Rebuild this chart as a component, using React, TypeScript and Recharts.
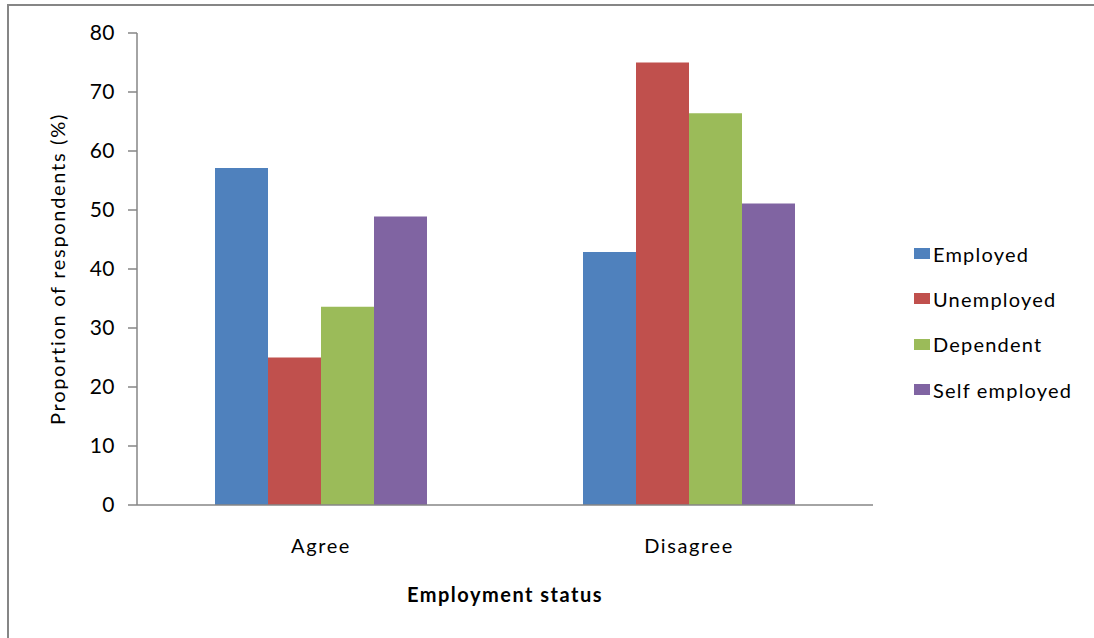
import React from "react";
import { BarChart, Bar, XAxis, YAxis, Legend, Label } from "recharts";

// Response categories along the x axis
const categories = ["Agree", "Disagree"];

// Share of respondents (%) for each employment status
const employed = [57.1, 42.9];
const unemployed = [25.0, 75.0];
const dependent = [33.6, 66.4];
const selfEmployed = [48.9, 51.1];

const yTicks = [0, 10, 20, 30, 40, 50, 60, 70, 80];

const series = [
  { key: "employed", name: "Employed", color: "#4F81BD", values: employed },
  { key: "unemployed", name: "Unemployed", color: "#C0504D", values: unemployed },
  { key: "dependent", name: "Dependent", color: "#9BBB59", values: dependent },
  { key: "selfEmployed", name: "Self employed", color: "#8064A2", values: selfEmployed },
];

const data = categories.map((c, i) => {
  const row: Record<string, string | number> = { category: c };
  series.forEach((s) => {
    row[s.key] = s.values[i];
  });
  return row;
});

const FONT = "Lato, 'Open Sans', sans-serif";
const AXIS = "#868686";

const renderLegend = () => (
  <div style={{ fontFamily: FONT, fontSize: 20, letterSpacing: 1.2, color: "#000" }}>
    {series.map((s) => (
      <div
        key={s.key}
        style={{ display: "flex", alignItems: "center", height: 45.3 }}
      >
        <span
          style={{
            display: "inline-block",
            width: 16,
            height: 11,
            background: s.color,
            marginRight: 3,
          }}
        />
        <span>{s.name}</span>
      </div>
    ))}
  </div>
);

export default function App() {
  return (
    <div style={{ position: "fixed", left: 0, top: 0, width: 1094, height: 638, background: "#fff" }}>
      <div
        style={{
          position: "absolute",
          left: 7,
          top: 4,
          width: 1200,
          height: 800,
          border: `2px solid ${AXIS}`,
          boxSizing: "border-box",
        }}
      />
      <BarChart
        width={1094}
        height={638}
        data={data}
        margin={{ top: 33, right: 221, bottom: 73, left: 0 }}
        barCategoryGap={78}
        barGap={0}
        style={{ position: "absolute", left: 0, top: 0 }}
      >
        <XAxis
          dataKey="category"
          height={60}
          tickLine={false}
          tickSize={0}
          tickMargin={34}
          axisLine={{ stroke: AXIS, strokeWidth: 1.5 }}
          tick={{ fill: "#000", fontSize: 20, fontFamily: FONT, letterSpacing: 1.6 }}
        >
          <Label
            content={({ viewBox }: any) => (
              <text
                x={viewBox.x + viewBox.width / 2}
                y={viewBox.y + 89}
                textAnchor="middle"
                dominantBaseline="central"
                fontFamily={FONT}
                fontWeight={700}
                fontSize={20}
                letterSpacing={1.5}
                fill="#000"
              >
                Employment status
              </text>
            )}
          />
        </XAxis>
        <YAxis
          width={137}
          domain={[0, 80]}
          ticks={yTicks}
          interval={0}
          tickSize={9}
          tickMargin={13}
          axisLine={{ stroke: AXIS, strokeWidth: 1.5 }}
          tickLine={{ stroke: AXIS, strokeWidth: 1.5 }}
          tick={{ fill: "#000", fontSize: 21, fontFamily: FONT, letterSpacing: 0.5 }}
        >
          <Label
            content={({ viewBox }: any) => {
              const x = viewBox.x + 57;
              const y = viewBox.y + viewBox.height / 2;
              return (
                <text
                  x={x}
                  y={y}
                  transform={`rotate(-90 ${x} ${y})`}
                  textAnchor="middle"
                  dominantBaseline="central"
                  fontFamily={FONT}
                  fontSize={20}
                  letterSpacing={1.7}
                  fill="#000"
                >
                  Proportion of respondents (%)
                </text>
              );
            }}
          />
        </YAxis>
        <Legend
          layout="horizontal"
          verticalAlign="middle"
          align="center"
          content={renderLegend}
          wrapperStyle={{ left: 914, top: 231, width: 180 }}
        />
        {series.map((s) => (
          <Bar
            key={s.key}
            dataKey={s.key}
            name={s.name}
            fill={s.color}
            isAnimationActive={false}
          />
        ))}
      </BarChart>
    </div>
  );
}
